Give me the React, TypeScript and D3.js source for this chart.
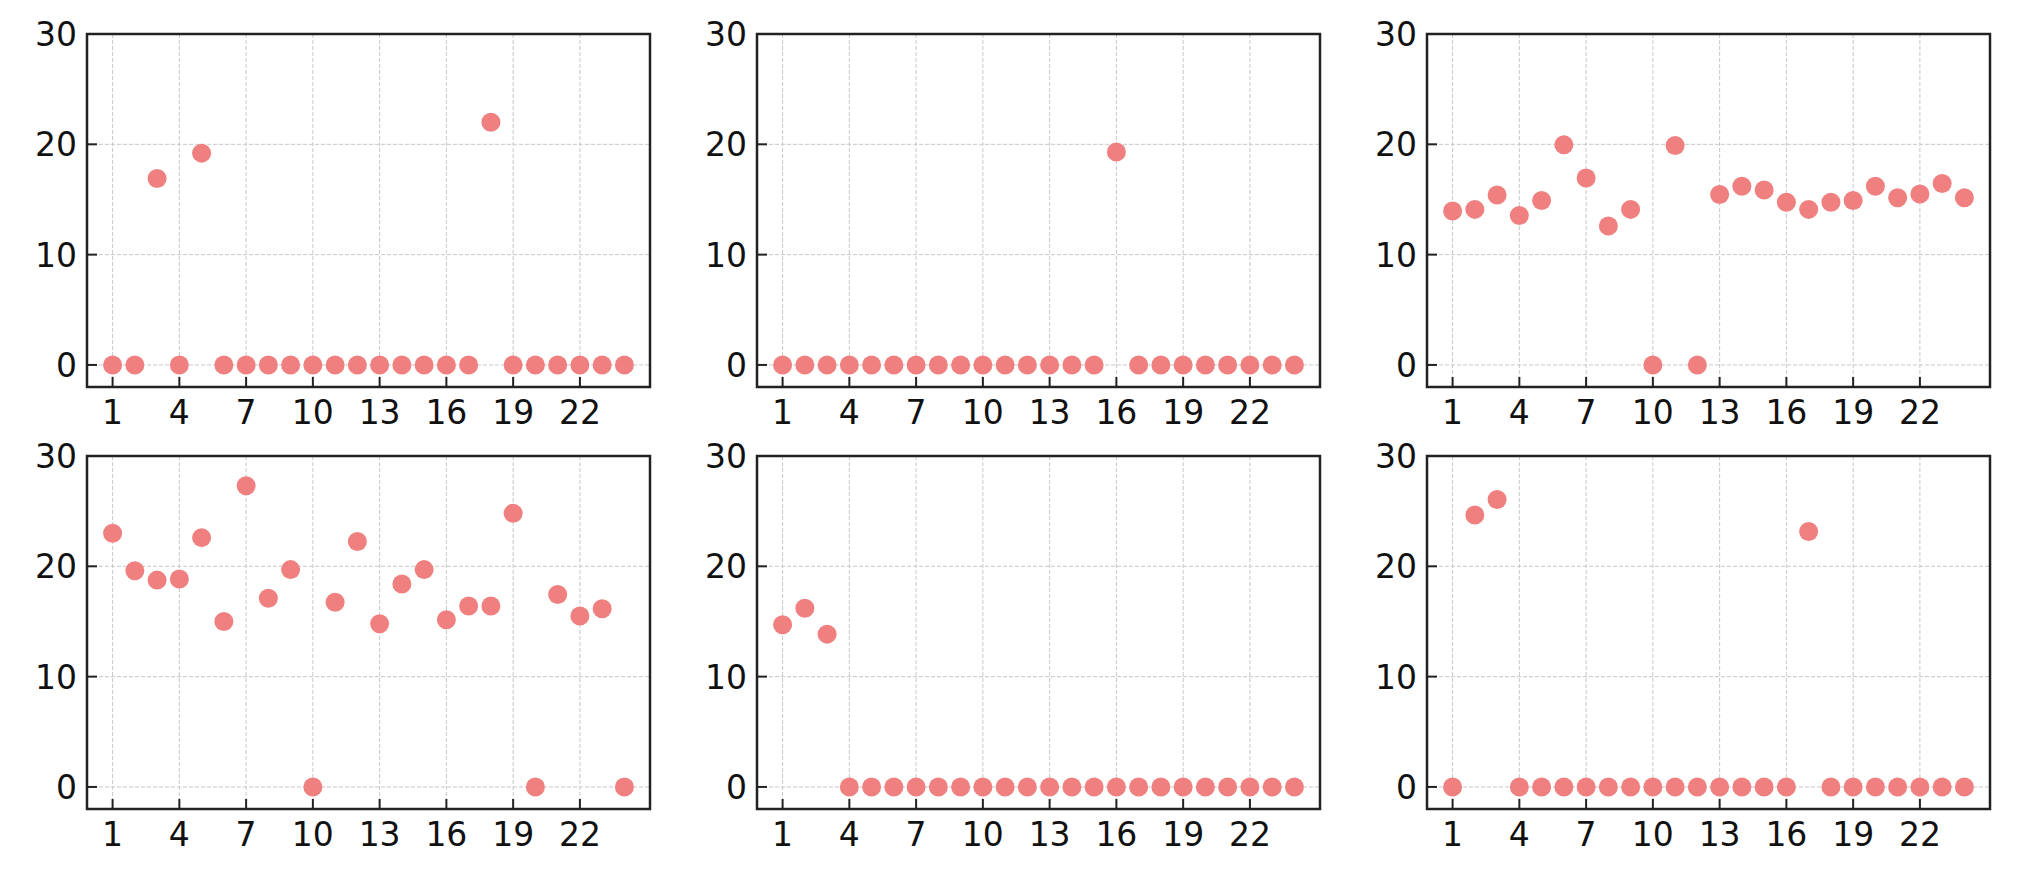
import * as d3 from "d3";

// x categories and tick labels
const hours = [1, 2, 3, 4, 5, 6, 7, 8, 9, 10, 11, 12, 13, 14, 15, 16, 17, 18, 19, 20, 21, 22, 23, 24];
const xTicks = [1, 4, 7, 10, 13, 16, 19, 22];
const yTicks = [0, 10, 20, 30];

// series values, one array per panel (row-major)
const panelA = [0, 0, 16.9, 0, 19.2, 0, 0, 0, 0, 0, 0, 0, 0, 0, 0, 0, 0, 22.0, 0, 0, 0, 0, 0, 0];
const panelB = [0, 0, 0, 0, 0, 0, 0, 0, 0, 0, 0, 0, 0, 0, 0, 19.3, 0, 0, 0, 0, 0, 0, 0, 0];
const panelC = [13.95, 14.1, 15.4, 13.55, 14.9, 19.95, 16.95, 12.6, 14.1, 0, 19.9, 0, 15.45, 16.2, 15.85, 14.75, 14.1, 14.75, 14.9, 16.2, 15.15, 15.5, 16.45, 15.15];
const panelD = [23.0, 19.6, 18.75, 18.85, 22.6, 15.0, 27.3, 17.1, 19.7, 0, 16.75, 22.25, 14.8, 18.4, 19.7, 15.15, 16.4, 16.4, 24.8, 0, 17.45, 15.5, 16.15, 0];
const panelE = [14.7, 16.2, 13.85, 0, 0, 0, 0, 0, 0, 0, 0, 0, 0, 0, 0, 0, 0, 0, 0, 0, 0, 0, 0, 0];
const panelF = [0, 24.65, 26.05, 0, 0, 0, 0, 0, 0, 0, 0, 0, 0, 0, 0, 0, 23.15, 0, 0, 0, 0, 0, 0, 0];

const panels = [panelA, panelB, panelC, panelD, panelE, panelF];

const W = 2038;
const H = 878;
const colLeft = [87, 757, 1427];
const rowTop = [34, 456];
const pw = 563;
const ph = 353;
const font = "'DejaVu Sans', sans-serif";
const ink = "#222";

const Panel = ({ values, left, top }: { values: number[]; left: number; top: number }) => {
  const x = d3.scaleLinear().domain([-0.15, 25.15]).range([0, pw]);
  const y = d3.scaleLinear().domain([-2, 30]).range([ph, 0]);

  return (
    <g transform={`translate(${left},${top})`}>
      {/* grid */}
      {xTicks.map((t) => (
        <line key={"gx" + t} x1={x(t)} x2={x(t)} y1={0} y2={ph} stroke="#c8c8c8" strokeWidth={1} strokeDasharray="4,2" />
      ))}
      {yTicks.map((t) => (
        <line key={"gy" + t} x1={0} x2={pw} y1={y(t)} y2={y(t)} stroke="#c8c8c8" strokeWidth={1} strokeDasharray="4,2" />
      ))}

      {/* points */}
      {values.map((v, i) => (
        <circle key={i} cx={x(hours[i])} cy={y(v)} r={9.5} fill="#f08080" />
      ))}

      {/* ticks pointing in */}
      {xTicks.map((t) => (
        <line key={"tx" + t} x1={x(t)} x2={x(t)} y1={ph} y2={ph - 10} stroke={ink} strokeWidth={2} />
      ))}
      {yTicks.map((t) => (
        <line key={"ty" + t} x1={0} x2={10} y1={y(t)} y2={y(t)} stroke={ink} strokeWidth={2} />
      ))}

      {/* spines */}
      <rect x={0} y={0} width={pw} height={ph} fill="none" stroke={ink} strokeWidth={2.5} />

      {/* tick labels */}
      {xTicks.map((t) => (
        <text key={"lx" + t} x={x(t)} y={ph + 37} textAnchor="middle" fontFamily={font} fontSize={33} fill="#111">
          {t}
        </text>
      ))}
      {yTicks.map((t) => (
        <text key={"ly" + t} x={-10} y={y(t) + 12} textAnchor="end" fontFamily={font} fontSize={33} fill="#111">
          {t}
        </text>
      ))}
    </g>
  );
};

export default function App() {
  return (
    <svg width={W} height={H} style={{ position: "absolute", left: 0, top: 0, background: "#fff" }}>
      <rect width={W} height={H} fill="#fff" />
      {panels.map((vals, i) => (
        <Panel key={i} values={vals} left={colLeft[i % 3]} top={rowTop[Math.floor(i / 3)]} />
      ))}
    </svg>
  );
}
